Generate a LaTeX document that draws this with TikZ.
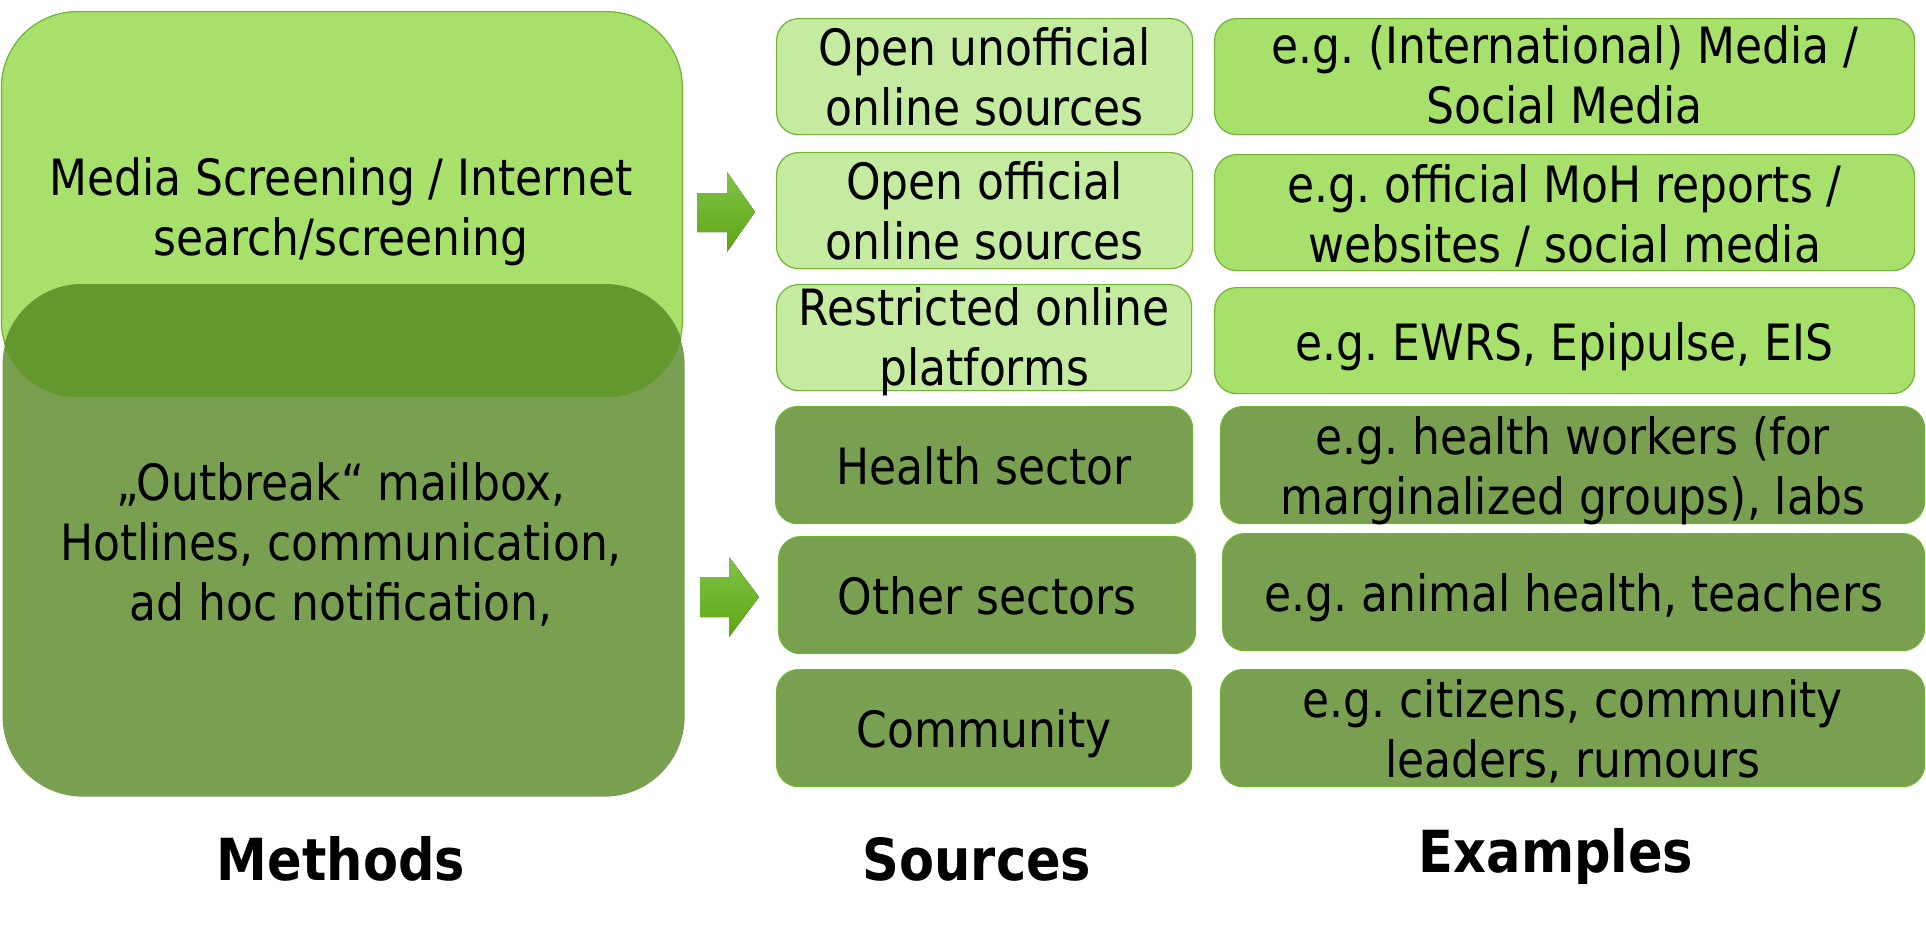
\documentclass[tikz,border=0pt]{standalone}
\usepackage{fontspec}
\setmainfont[FakeStretch=0.88]{DejaVu Sans}
\usetikzlibrary{calc}
\definecolor{lightG}{RGB}{167,224,107}
\definecolor{paleG}{RGB}{197,235,160}
\definecolor{darkG}{RGB}{121,160,81}
\definecolor{overG}{RGB}{99,152,46}
\definecolor{edgeG}{RGB}{112,180,50}
\definecolor{arrTop}{RGB}{128,196,70}
\definecolor{arrBot}{RGB}{94,166,20}
\newcommand{\txtfont}{\fontsize{50}{60}\selectfont}
\newcommand{\lblfont}{\fontsize{58}{70}\selectfont\bfseries}
\frenchspacing
\begin{document}
\begin{tikzpicture}[x=1pt,y=-1pt,
  boxbase/.style={draw=edgeG, line width=1.2pt, rounded corners=22pt, inner sep=0pt, anchor=north west},
  palebox/.style={boxbase, fill=paleG},
  lightbox/.style={boxbase, fill=lightG},
  darkbox/.style={boxbase, fill=darkG},
  txt/.style={font=\txtfont, align=center, inner sep=0pt, text=black},
  lbl/.style={font=\lblfont, anchor=base, inner sep=0pt, text=black},
  blockarrow/.style={top color=arrTop, bottom color=arrBot, draw=none}
]
\useasboundingbox (0,0) rectangle (1926,926);
% big method boxes
\node[lightbox, rounded corners=76pt, minimum width=681pt, minimum height=385pt] (mL) at (0.8,11) {};
\node[boxbase, draw=none, fill=darkG, rounded corners=80pt, minimum width=682pt, minimum height=512pt] (mD) at (2,284) {};
\begin{scope}
  \clip[rounded corners=76pt] (mL.north west) rectangle (mL.south east);
  \fill[overG, rounded corners=80pt] (mD.north west) rectangle (mD.south east);
\end{scope}
\node[txt] (tmL) at (341,213) {\strut Media Screening / Internet\\\strut search/screening};
\node[txt] (tmD) at (341,548) {\strut „Outbreak“ mailbox,\\\strut Hotlines, communication,\\\strut ad hoc notification,};
% block arrows
\coordinate (a1) at (697,193);
\fill[blockarrow] (a1) -- ++(30,0) -- ++(0,-21) -- ++(28,40) -- ++(-28,40) -- ++(0,-20) -- ++(-30,0) -- cycle;
\coordinate (a2) at (700,577);
\fill[blockarrow] (a2) -- ++(29,0) -- ++(0,-20) -- ++(30,40) -- ++(-30,40) -- ++(0,-20) -- ++(-29,0) -- cycle;
% sources
\node[palebox, minimum width=416pt, minimum height=116pt] (s1) at (776,18) {};
\node[palebox, minimum width=416pt, minimum height=116pt] (s2) at (776,152) {};
\node[palebox, minimum width=415pt, minimum height=106pt] (s3) at (776,284) {};
\node[darkbox, minimum width=417pt, minimum height=117pt] (s4) at (775,406) {};
\node[darkbox, minimum width=417pt, minimum height=117pt] (s5) at (778,536) {};
\node[darkbox, minimum width=415pt, minimum height=117pt] (s6) at (776,669) {};
\node[txt] (ts1) at ($(s1.center)+(0,7)$) {\strut Open unofficial\\\strut online sources};
\node[txt] (ts2) at ($(s2.center)+(0,7)$) {\strut Open official\\\strut online sources};
\node[txt] (ts3) at ($(s3.center)+(0,6)$) {\strut Restricted online\\\strut platforms};
\node[txt] (ts4) at ($(s4.center)+(0,7)$) {\strut Health sector};
\node[txt] (ts5) at ($(s5.center)+(0,7)$) {\strut Other sectors};
\node[txt] (ts6) at ($(s6.center)+(0,7)$) {\strut Community};
% examples
\node[lightbox, minimum width=700pt, minimum height=116pt] (e1) at (1214,18) {};
\node[lightbox, minimum width=700pt, minimum height=116pt] (e2) at (1214,154) {};
\node[lightbox, minimum width=700pt, minimum height=106pt] (e3) at (1214,287) {};
\node[darkbox, minimum width=704pt, minimum height=117pt] (e4) at (1220,406) {};
\node[darkbox, minimum width=702pt, minimum height=117pt] (e5) at (1222,533) {};
\node[darkbox, minimum width=704pt, minimum height=117pt] (e6) at (1220,669) {};
\node[txt] (te1) at ($(e1.center)+(0,5)$) {\strut e.g. (International) Media /\\\strut Social Media};
\node[txt] (te2) at ($(e2.center)+(0,8)$) {\strut e.g. official MoH reports /\\\strut websites / social media};
\node[txt] (te3) at ($(e3.center)+(0,8)$) {\strut e.g. EWRS, Epipulse, EIS};
\node[txt] (te4) at ($(e4.center)+(0,7)$) {\strut e.g. health workers (for\\\strut marginalized groups), labs};
\node[txt] (te5) at ($(e5.center)+(0,7)$) {\strut e.g. animal health, teachers};
\node[txt] (te6) at ($(e6.center)+(0,7)$) {\strut e.g. citizens, community\\\strut leaders, rumours};
% column labels
\node[lbl] (lm) at (341,880) {Methods};
\node[lbl] (ls) at (977,880) {Sources};
\node[lbl] (le) at (1556,872) {Examples};
\end{tikzpicture}
\end{document}
